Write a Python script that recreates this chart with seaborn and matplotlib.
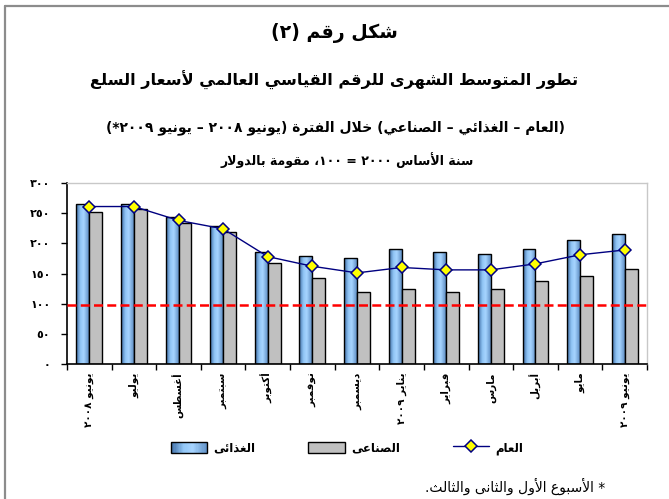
import numpy as np
import pandas as pd
import matplotlib
matplotlib.use("Agg")
import matplotlib.pyplot as plt
import seaborn as sns
from matplotlib.colors import LinearSegmentedColormap
from matplotlib.legend_handler import HandlerBase
from matplotlib.patches import Rectangle, Patch
from matplotlib.lines import Line2D

# ---------------------------------------------------------------- data
months = ["يونيو ٢٠٠٨", "يوليو", "أغسطس", "سبتمبر", "أكتوبر", "نوفمبر",
          "ديسمبر", "يناير ٢٠٠٩", "فبراير", "مارس", "أبريل", "مايو",
          "يونيو ٢٠٠٩"]
food = [266, 266, 243, 229, 186, 179, 176, 190, 186, 183, 190, 206, 215]
industrial = [252, 257, 234, 218, 167, 142, 119, 124, 119, 124, 138, 146, 158]
general = [261, 261, 238, 224, 178, 162, 151, 160, 156, 156, 166, 181, 189]
reference_level = 97

series_names = ["الغذائى", "الصناعى", "العام"]
y_ticks = [0, 50, 100, 150, 200, 250, 300]
y_tick_labels = ["٠", "٥٠", "١٠٠", "١٥٠", "٢٠٠", "٢٥٠", "٣٠٠"]

title_1 = "شكل رقم (٢)"
title_2 = "تطور المتوسط الشهرى للرقم القياسي العالمي لأسعار السلع"
title_3 = "(العام – الغذائي – الصناعي) خلال الفترة (يونيو ٢٠٠٨ – يونيو ٢٠٠٩*)"
subtitle = "سنة الأساس ٢٠٠٠ = ١٠٠، مقومة بالدولار"
footnote = "* الأسبوع الأول والثانى والثالث."

# ------------------------------------------------- Arabic shaping + bidi
DUAL = {'ئ': 0xFE89, 'ب': 0xFE8F, 'ت': 0xFE95, 'ث': 0xFE99, 'ج': 0xFE9D,
        'ح': 0xFEA1, 'خ': 0xFEA5, 'س': 0xFEB1, 'ش': 0xFEB5, 'ص': 0xFEB9,
        'ض': 0xFEBD, 'ط': 0xFEC1, 'ظ': 0xFEC5, 'ع': 0xFEC9, 'غ': 0xFECD,
        'ف': 0xFED1, 'ق': 0xFED5, 'ك': 0xFED9, 'ل': 0xFEDD, 'م': 0xFEE1,
        'ن': 0xFEE5, 'ه': 0xFEE9, 'ي': 0xFEF1}
RIGHT = {'آ': 0xFE81, 'أ': 0xFE83, 'ؤ': 0xFE85, 'إ': 0xFE87, 'ا': 0xFE8D,
         'ة': 0xFE93, 'د': 0xFEA9, 'ذ': 0xFEAB, 'ر': 0xFEAD, 'ز': 0xFEAF,
         'و': 0xFEED, 'ى': 0xFEEF}
LAM_ALEF = {'آ': 0xFEF5, 'أ': 0xFEF7, 'إ': 0xFEF9, 'ا': 0xFEFB}
DIGITS = set("0123456789٠١٢٣٤٥٦٧٨٩")
MIRROR = {'(': ')', ')': '('}


def shape(text):
    items, i = [], 0
    while i < len(text):
        c = text[i]
        if c == 'ل' and i + 1 < len(text) and text[i + 1] in LAM_ALEF:
            items.append(('LA', text[i + 1]))
            i += 2
        else:
            items.append(c)
            i += 1

    def joins_forward(it):
        return isinstance(it, str) and it in DUAL

    def joining(it):
        return isinstance(it, tuple) or it in DUAL or it in RIGHT

    out = []
    for k, it in enumerate(items):
        prev = items[k - 1] if k > 0 else None
        nxt = items[k + 1] if k + 1 < len(items) else None
        jp = prev is not None and joins_forward(prev) and joining(it)
        if isinstance(it, tuple):
            out.append(chr(LAM_ALEF[it[1]] + (1 if jp else 0)))
        elif it in DUAL:
            jn = nxt is not None and joining(nxt)
            off = 3 if (jp and jn) else 1 if jp else 2 if jn else 0
            out.append(chr(DUAL[it] + off))
        elif it in RIGHT:
            out.append(chr(RIGHT[it] + (1 if jp else 0)))
        else:
            out.append(it)
    return ''.join(out)


def ar(text):
    tokens = []
    for ch in shape(text):
        if ch in DIGITS and tokens and tokens[-1][-1] in DIGITS:
            tokens[-1] += ch
        else:
            tokens.append(ch)
    return ''.join(MIRROR.get(t, t) for t in reversed(tokens))


# ---------------------------------------------------------------- style
sns.set_style("white")
plt.rcParams['font.family'] = ['DejaVu Sans']
plt.rcParams.update({"text.color": "black", "xtick.color": "black",
                     "ytick.color": "black", "axes.labelcolor": "black"})

fig = plt.figure(figsize=(6.69, 4.99), dpi=100)
ax = fig.add_axes([67 / 669, 135 / 499, 580 / 669, 181 / 499])

bar_df = pd.DataFrame({
    "month": months * 2,
    "series": [series_names[0]] * len(months) + [series_names[1]] * len(months),
    "value": food + industrial,
})
sns.barplot(data=bar_df, x="month", y="value", hue="series", order=months,
            hue_order=series_names[:2], palette=["#99CCFF", "#C0C0C0"],
            saturation=1, width=0.58, edgecolor="black", linewidth=1,
            legend=False, ax=ax)

# gradient fill for the food bars
blue_cmap = LinearSegmentedColormap.from_list(
    "bar_blue", [(0, "#3D6CA3"), (0.35, "#92C6F6"), (0.6, "#A6D4FF"),
                 (1, "#5F8FC5")])
grad = np.linspace(0, 1, 64).reshape(1, -1)
for bar in ax.containers[0]:
    x0, w, h = bar.get_x(), bar.get_width(), bar.get_height()
    im = ax.imshow(grad, cmap=blue_cmap, extent=(x0, x0 + w, 0, h),
                   aspect="auto", interpolation="bilinear",
                   zorder=bar.get_zorder() - 0.1)
    im.set_clip_path(bar)
    bar.set_facecolor("none")

# reference line
ax.axhline(reference_level, color="#FF0000", lw=1.8,
           linestyle=(0, (3.6, 1.7)), zorder=4)

# general index
sns.pointplot(x=months, y=general, order=months, color="#000080",
              markers="D", linewidth=1.0, errorbar=None, ax=ax)
gl = ax.lines[-1]
gl.set_markerfacecolor("#FFFF00")
gl.set_markeredgecolor("#000080")
gl.set_markersize(6.5)
gl.set_markeredgewidth(1.1)
gl.set_linewidth(1.0)
gl.set_zorder(6)

ax.set_xlim(-0.5, len(months) - 0.5)
ax.set_ylim(0, 300)
ax.set_xlabel("")
ax.set_ylabel("")

ax.set_yticks(y_ticks)
ax.set_yticklabels(y_tick_labels, fontsize=8, fontweight="bold",
                   color="black")
ax.tick_params(axis="y", direction="out", length=4, width=1, color="black",
               pad=8, left=True)

ax.set_xticks(range(len(months)))
ax.set_xticklabels([ar(m) for m in months], rotation=90, fontsize=7.5,
                   fontweight="bold", va="top", ha="center", color="black")
ax.set_xticks(np.arange(-0.5, len(months), 1.0), minor=True)
ax.tick_params(axis="x", which="major", length=0, pad=6)
ax.tick_params(axis="x", which="minor", direction="out", length=4, width=1,
               color="black", bottom=True)

for side in ("left", "bottom"):
    ax.spines[side].set_color("black")
    ax.spines[side].set_linewidth(1.2)
for side in ("top", "right"):
    ax.spines[side].set_color("#C8C8C8")
    ax.spines[side].set_linewidth(1.0)


# ---------------------------------------------------------------- legend
class GradientBoxHandler(HandlerBase):
    def create_artists(self, legend, orig_handle, xdescent, ydescent, width,
                       height, fontsize, trans):
        n = 30
        arts = []
        for i in range(n):
            arts.append(Rectangle((-xdescent + width * i / n, -ydescent),
                                  width / n * 1.05, height,
                                  facecolor=blue_cmap((i + 0.5) / n),
                                  edgecolor="none", transform=trans))
        arts.append(Rectangle((-xdescent, -ydescent), width, height,
                              facecolor="none", edgecolor="black", lw=1,
                              transform=trans))
        return arts


food_handle = Patch(facecolor="#99CCFF", edgecolor="black")
ind_handle = Patch(facecolor="#C0C0C0", edgecolor="black", lw=1)
gen_handle = Line2D([], [], color="#000080", lw=1.0, marker="D",
                    markersize=6.5, markerfacecolor="#FFFF00",
                    markeredgecolor="#000080", markeredgewidth=1.1)
fig.legend([food_handle, ind_handle, gen_handle],
           [ar(s) for s in series_names],
           handler_map={food_handle: GradientBoxHandler()},
           loc="center", bbox_to_anchor=(347 / 669, 1 - 448 / 499), ncol=3,
           frameon=False, prop={"size": 8.5, "weight": "bold"},
           labelcolor="black",
           handlelength=3.1, handleheight=1.1, handletextpad=0.5,
           columnspacing=4.5, numpoints=1)

# ---------------------------------------------------------------- titles
def ftext(x, y, s, **kw):
    fig.text(x / 669, 1 - y / 499, ar(s), color="black", **kw)


ftext(334, 33, title_1, ha="center", va="center", fontsize=13.6,
      fontweight="bold")
ftext(334, 80, title_2, ha="center", va="center", fontsize=11.6,
      fontweight="bold")
ftext(335, 128, title_3, ha="center", va="center", fontsize=10,
      fontweight="bold")
ftext(347, 160, subtitle, ha="center", va="center", fontsize=9,
      fontweight="bold")
ftext(605, 486, footnote, ha="right", va="center", fontsize=10)

# frame lines along the top and left edges
fig.add_artist(Line2D([5 / 669, 1], [1 - 5.5 / 499] * 2,
                      transform=fig.transFigure, color="#8C8C8C", lw=1.6))
fig.add_artist(Line2D([5 / 669] * 2, [0, 1 - 5.5 / 499],
                      transform=fig.transFigure, color="#8C8C8C", lw=1.6))

fig.savefig("out.png", dpi=100)
